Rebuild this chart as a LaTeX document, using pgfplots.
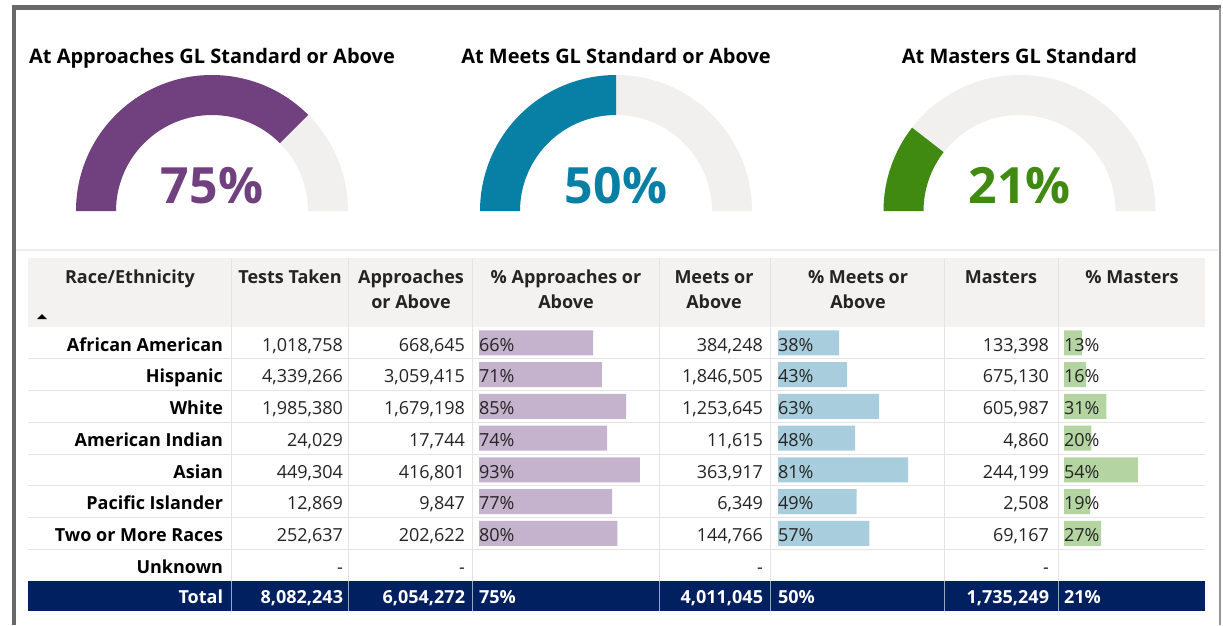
\documentclass[border=0pt]{standalone}
\usepackage{pgfplots}
\pgfplotsset{compat=1.18}
\usepackage{fontspec}
\setmainfont{Open Sans}

\definecolor{frame}{RGB}{105,105,105}
\definecolor{ink}{RGB}{37,36,35}
\definecolor{gpurple}{RGB}{112,65,126}
\definecolor{gblue}{RGB}{8,128,166}
\definecolor{ggreen}{RGB}{64,138,18}
\definecolor{grest}{RGB}{241,240,239}
\definecolor{apbar}{RGB}{197,178,205}
\definecolor{mebar}{RGB}{168,206,222}
\definecolor{mabar}{RGB}{180,213,162}
\definecolor{hdr}{RGB}{243,242,241}
\definecolor{gridc}{RGB}{230,228,226}
\definecolor{navy}{RGB}{0,32,96}

% one axis unit = 1pt = 1 px of the reference
\pgfplotsset{canvas/.style={at={(0pt,0pt)}, anchor=south west, scale only axis,
  width=1223pt, height=625pt, xmin=0, xmax=1223, ymin=0, ymax=625,
  y dir=reverse, hide axis, clip=false}}
\pgfplotsset{databar/.style={scale only axis, hide axis, anchor=north west,
  height=254pt, xmin=0, xmax=100, ymin=0.5, ymax=8.5, y dir=reverse,
  xbar, bar width=25pt, clip=false}}

% gauge: centre x, value, colour
\newcommand\gauge[3]{%
  \fill[grest] (axis cs:#1,211) ++(180:136pt) arc[start angle=180,end angle=0,radius=136pt]
     -- ++(180:40pt) arc[start angle=0,end angle=180,radius=96pt] -- cycle;
  \fill[#3] (axis cs:#1,211) ++(180:136pt) arc[start angle=180,end angle={180-1.8*#2},radius=136pt]
     -- ++({180-1.8*#2}:-40pt) arc[start angle={180-1.8*#2},end angle=180,radius=96pt] -- cycle;
}
\newcommand\gaugetext[4]{%
  \node[anchor=base, font=\fontsize{20}{24}\selectfont\bfseries, text=black] at (axis cs:#1,63) {#4};
  \node[anchor=base, font=\fontsize{50}{56}\selectfont\bfseries, text=#3] at (axis cs:#1,203) {#2\%};
}
% table row: index, name, tests, approaches, %app, meets, %meets, masters, %masters
\newcommand\Row[9]{%
  \node[anchor=base east, font=\bfseries, text=black] at (axis cs:223,{351+(#1-1)*31.75}) {#2};
  \node[anchor=base east] at (axis cs:343,{351+(#1-1)*31.75}) {#3};
  \node[anchor=base east] at (axis cs:465,{351+(#1-1)*31.75}) {#4};
  \node[anchor=base west] at (axis cs:479,{351+(#1-1)*31.75}) {#5};
  \node[anchor=base east] at (axis cs:763,{351+(#1-1)*31.75}) {#6};
  \node[anchor=base west] at (axis cs:778,{351+(#1-1)*31.75}) {#7};
  \node[anchor=base east] at (axis cs:1049,{351+(#1-1)*31.75}) {#8};
  \node[anchor=base west] at (axis cs:1064,{351+(#1-1)*31.75}) {#9};
}

\begin{document}
\fontsize{18}{21}\selectfont
\begin{tikzpicture}[inner sep=0pt, outer sep=0pt]
\useasboundingbox (0,0) rectangle (1223pt,625pt);

% background: frame, gauges, table cells
\begin{axis}[canvas]
  \fill[white] (axis cs:0,0) rectangle (axis cs:1223,625);
  \draw[frame, line width=4pt] (axis cs:14,625) -- (axis cs:14,7.5);
  \draw[frame, line width=5pt] (axis cs:12,7.5) -- (axis cs:1221,7.5);
  \draw[frame!70, line width=2.5pt] (axis cs:1220,7.5) -- (axis cs:1220,625);
  \draw[black!7, line width=1.5pt] (axis cs:16,250) -- (axis cs:1218,250);

  \gauge{212}{75}{gpurple}
  \gauge{616}{50}{gblue}
  \gauge{1019.5}{21}{ggreen}

  \fill[hdr] (axis cs:28,258) rectangle (axis cs:1205,327);
  \pgfplotsinvokeforeach{1,...,7}{
    \draw[gridc, line width=1pt] (axis cs:28,{327+#1*31.75}) -- (axis cs:1205,{327+#1*31.75});
  }
  \pgfplotsinvokeforeach{231,348,472,659,770,944,1058}{
    \draw[gridc, line width=1pt] (axis cs:#1,258) -- (axis cs:#1,581);
  }
  \fill[navy] (axis cs:28,581) rectangle (axis cs:1205,611);
  \pgfplotsinvokeforeach{231,348,472,659,770,944,1058}{
    \draw[white!60!navy, line width=1pt] (axis cs:#1,581) -- (axis cs:#1,611);
  }
  \fill[black] (axis cs:37,319) -- (axis cs:47,319) -- (axis cs:42,314) -- cycle;
\end{axis}

% data bars
\begin{axis}[databar, at={(479pt,298pt)}, width=173pt]
  \addplot[fill=apbar, draw=none] coordinates {(66,1) (71,2) (85,3) (74,4) (93,5) (77,6) (80,7)};
\end{axis}
\begin{axis}[databar, at={(778pt,298pt)}, width=160.5pt]
  \addplot[fill=mebar, draw=none] coordinates {(38,1) (43,2) (63,3) (48,4) (81,5) (49,6) (57,7)};
\end{axis}
\begin{axis}[databar, at={(1064pt,298pt)}, width=137pt]
  \addplot[fill=mabar, draw=none] coordinates {(13,1) (16,2) (31,3) (20,4) (54,5) (19,6) (27,7)};
\end{axis}

% texts
\begin{axis}[canvas]
  \gaugetext{212}{75}{gpurple}{At Approaches GL Standard or Above}
  \gaugetext{616}{50}{gblue}{At Meets GL Standard or Above}
  \gaugetext{1019.5}{21}{ggreen}{At Masters GL Standard}

  \begin{scope}[every node/.style={font=\bfseries, text=ink, anchor=base}]
    \node at (axis cs:130,283) {Race/Ethnicity};
    \node at (axis cs:290,283) {Tests Taken};
    \node at (axis cs:411,283) {Approaches};
    \node at (axis cs:411,308) {or Above};
    \node at (axis cs:566,283) {\% Approaches or};
    \node at (axis cs:566,308) {Above};
    \node at (axis cs:714,283) {Meets or};
    \node at (axis cs:714,308) {Above};
    \node at (axis cs:858,283) {\% Meets or};
    \node at (axis cs:858,308) {Above};
    \node at (axis cs:1001,283) {Masters};
    \node at (axis cs:1132,283) {\% Masters};
  \end{scope}

  \begin{scope}[every node/.style={text=ink}]
    \Row{1}{African American}{1,018,758}{668,645}{66\%}{384,248}{38\%}{133,398}{13\%}
    \Row{2}{Hispanic}{4,339,266}{3,059,415}{71\%}{1,846,505}{43\%}{675,130}{16\%}
    \Row{3}{White}{1,985,380}{1,679,198}{85\%}{1,253,645}{63\%}{605,987}{31\%}
    \Row{4}{American Indian}{24,029}{17,744}{74\%}{11,615}{48\%}{4,860}{20\%}
    \Row{5}{Asian}{449,304}{416,801}{93\%}{363,917}{81\%}{244,199}{54\%}
    \Row{6}{Pacific Islander}{12,869}{9,847}{77\%}{6,349}{49\%}{2,508}{19\%}
    \Row{7}{Two or More Races}{252,637}{202,622}{80\%}{144,766}{57\%}{69,167}{27\%}
    \Row{8}{Unknown}{-}{-}{}{-}{}{-}{}
  \end{scope}
  \begin{scope}[every node/.style={text=white, font=\bfseries}]
    \node[anchor=base east] at (axis cs:223,603) {Total};
    \node[anchor=base east] at (axis cs:343,603) {8,082,243};
    \node[anchor=base east] at (axis cs:465,603) {6,054,272};
    \node[anchor=base west] at (axis cs:479,603) {75\%};
    \node[anchor=base east] at (axis cs:763,603) {4,011,045};
    \node[anchor=base west] at (axis cs:778,603) {50\%};
    \node[anchor=base east] at (axis cs:1049,603) {1,735,249};
    \node[anchor=base west] at (axis cs:1064,603) {21\%};
  \end{scope}
\end{axis}
\end{tikzpicture}
\end{document}
